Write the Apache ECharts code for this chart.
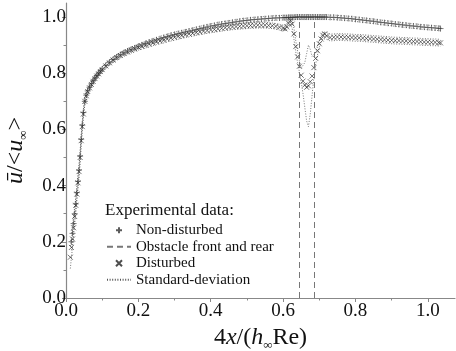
<!DOCTYPE html>
<html>
<head>
<meta charset="utf-8">
<script src="https://cdn.jsdelivr.net/npm/echarts@6/dist/echarts.min.js"></script>
<style>
html, body { margin: 0; padding: 0; background: #fff; }
#main { width: 456px; height: 351px; }
</style>
</head>
<body>
<div id="main"></div>
<script>
// abscissa of the measurement stations, 4x/(h Re)
var xPos = [
  0.012, 0.015, 0.018, 0.021, 0.024, 0.027, 0.030, 0.033, 0.036, 0.039,
  0.042, 0.045, 0.048, 0.052, 0.056, 0.060, 0.065, 0.070, 0.075, 0.080,
  0.085, 0.090, 0.095, 0.100, 0.11, 0.12, 0.13, 0.14, 0.15, 0.16,
  0.17, 0.18, 0.19, 0.20, 0.21, 0.22, 0.23, 0.24, 0.25, 0.26,
  0.27, 0.28, 0.29, 0.30, 0.31, 0.32, 0.33, 0.34, 0.35, 0.36,
  0.37, 0.38, 0.39, 0.40, 0.41, 0.42, 0.43, 0.44, 0.45, 0.46,
  0.47, 0.48, 0.49, 0.50, 0.51, 0.52, 0.53, 0.54, 0.55, 0.56,
  0.57, 0.58, 0.59, 0.60, 0.605, 0.61, 0.615, 0.62, 0.625, 0.63,
  0.635, 0.64, 0.645, 0.65, 0.655, 0.66, 0.665, 0.67, 0.675, 0.68,
  0.685, 0.69, 0.695, 0.70, 0.705, 0.71, 0.715, 0.72, 0.73, 0.74,
  0.75, 0.76, 0.77, 0.78, 0.79, 0.80, 0.81, 0.82, 0.83, 0.84,
  0.85, 0.86, 0.87, 0.88, 0.89, 0.90, 0.91, 0.92, 0.93, 0.94,
  0.95, 0.96, 0.97, 0.98, 0.99, 1.00, 1.01, 1.02, 1.03, 1.035
];

var nonDisturbed = [
  null, 0.20, 0.23, 0.265, 0.30, 0.335, 0.375, 0.415, 0.455, 0.505,
  0.565, 0.615, 0.66, 0.70, 0.722, 0.737, 0.75, 0.762, 0.773, 0.783,
  0.792, 0.80, 0.808, 0.815, 0.828, 0.839, 0.849, 0.858, 0.866, 0.873,
  0.879, 0.885, 0.890, 0.896, 0.901, 0.906, 0.911, 0.915, 0.919, 0.923,
  0.927, 0.931, 0.935, 0.938, 0.941, 0.944, 0.947, 0.950, 0.953, 0.956,
  0.959, 0.962, 0.965, 0.968, 0.970, 0.973, 0.975, 0.977, 0.979, 0.981,
  0.983, 0.985, 0.987, 0.988, 0.990, 0.991, 0.992, 0.993, 0.994, 0.995,
  0.996, 0.997, 0.997, 0.998, 0.998, 0.998, 0.999, 0.999, 0.999, 0.999,
  1.0, 1.0, 1.0, 1.0, 1.0, 1.0, 1.0, 1.0, 1.0, 1.0,
  1.0, 1.0, 1.0, 1.0, 1.0, 1.0, 1.0, 1.0, 0.999, 0.999,
  0.998, 0.997, 0.996, 0.995, 0.994, 0.992, 0.991, 0.989, 0.988, 0.986,
  0.985, 0.983, 0.981, 0.980, 0.978, 0.977, 0.975, 0.974, 0.972, 0.971,
  0.969, 0.968, 0.967, 0.965, 0.964, 0.963, 0.962, 0.961, 0.960, 0.959
];

var disturbed = [
  0.145, 0.18, 0.21, 0.25, 0.29, 0.33, 0.37, 0.41, 0.45, 0.50,
  0.56, 0.61, 0.655, 0.70, 0.72, 0.735, 0.748, 0.76, 0.771, 0.781,
  0.79, 0.798, 0.806, 0.813, 0.826, 0.837, 0.847, 0.856, 0.863, 0.870,
  0.876, 0.882, 0.887, 0.892, 0.896, 0.900, 0.904, 0.908, 0.912, 0.915,
  0.918, 0.922, 0.925, 0.928, 0.931, 0.934, 0.937, 0.940, 0.942, 0.945,
  0.947, 0.950, 0.952, 0.954, 0.956, 0.958, 0.960, 0.962, 0.963, 0.965,
  0.966, 0.967, 0.968, 0.969, 0.970, 0.970, 0.971, 0.971, 0.971, 0.970,
  0.969, 0.967, 0.964, 0.960, 0.958, 0.965, 0.978, 0.988, 0.975, 0.94,
  0.895, 0.858, 0.825, 0.793, 0.772, 0.758, 0.750, 0.755, 0.77, 0.79,
  0.82, 0.853, 0.88, 0.905, 0.922, 0.935, 0.94, 0.933, 0.927, 0.928,
  0.929, 0.929, 0.928, 0.928, 0.927, 0.926, 0.926, 0.925, 0.924, 0.923,
  0.922, 0.921, 0.920, 0.919, 0.918, 0.917, 0.916, 0.916, 0.915, 0.915,
  0.914, 0.913, 0.913, 0.912, 0.911, 0.911, 0.910, 0.910, 0.909, 0.908
];

// standard deviation of each profile
var stdNonDisturbed = [
  null, 0.03, 0.03, 0.025, 0.025, 0.02, 0.02, 0.02, 0.018, 0.016,
  0.014, 0.012, 0.011, 0.01, 0.01, 0.009, 0.009, 0.008, 0.008, 0.008,
  0.008, 0.008, 0.008, 0.008, 0.008, 0.008, 0.008, 0.008, 0.008, 0.008,
  0.008, 0.008, 0.008, 0.008, 0.008, 0.008, 0.008, 0.008, 0.008, 0.008,
  0.008, 0.008, 0.008, 0.008, 0.008, 0.008, 0.008, 0.008, 0.008, 0.008,
  0.008, 0.008, 0.008, 0.008, 0.008, 0.008, 0.008, 0.008, 0.008, 0.008,
  0.008, 0.008, 0.008, 0.008, 0.008, 0.008, 0.008, 0.008, 0.008, 0.008,
  0.008, 0.008, 0.008, 0.008, 0.008, 0.008, 0.008, 0.008, 0.008, 0.008,
  0.008, 0.008, 0.008, 0.008, 0.008, 0.008, 0.008, 0.008, 0.008, 0.008,
  0.008, 0.008, 0.008, 0.008, 0.008, 0.008, 0.008, 0.008, 0.008, 0.008,
  0.008, 0.008, 0.008, 0.008, 0.008, 0.008, 0.008, 0.008, 0.008, 0.008,
  0.008, 0.008, 0.008, 0.008, 0.008, 0.008, 0.008, 0.008, 0.008, 0.008,
  0.008, 0.008, 0.008, 0.008, 0.008, 0.008, 0.008, 0.008, 0.008, 0.008
];

var stdDisturbed = [
  0.04, 0.035, 0.03, 0.03, 0.025, 0.025, 0.02, 0.02, 0.02, 0.018,
  0.016, 0.015, 0.014, 0.012, 0.011, 0.01, 0.01, 0.01, 0.01, 0.01,
  0.01, 0.01, 0.01, 0.01, 0.01, 0.01, 0.01, 0.01, 0.01, 0.01,
  0.01, 0.01, 0.01, 0.01, 0.01, 0.01, 0.01, 0.01, 0.01, 0.01,
  0.01, 0.01, 0.01, 0.01, 0.01, 0.01, 0.01, 0.01, 0.01, 0.01,
  0.01, 0.01, 0.01, 0.01, 0.01, 0.01, 0.01, 0.01, 0.01, 0.01,
  0.01, 0.01, 0.01, 0.01, 0.01, 0.01, 0.01, 0.01, 0.01, 0.01,
  0.01, 0.01, 0.01, 0.01, 0.01, 0.01, 0.012, 0.012, 0.015, 0.02,
  0.02, 0.02, 0.02, 0.025, 0.045, 0.08, 0.12, 0.145, 0.115, 0.07,
  0.035, 0.02, 0.015, 0.012, 0.012, 0.012, 0.012, 0.012, 0.012, 0.012,
  0.012, 0.012, 0.012, 0.012, 0.012, 0.012, 0.012, 0.012, 0.012, 0.012,
  0.012, 0.012, 0.012, 0.012, 0.012, 0.012, 0.012, 0.012, 0.012, 0.012,
  0.012, 0.012, 0.012, 0.012, 0.012, 0.012, 0.012, 0.012, 0.012, 0.012
];

// obstacle front and rear positions
var obstacleX = [0.644, 0.686];
var obstacleTop = 1.0;

var xTicks = [0, 0.2, 0.4, 0.6, 0.8, 1.0];
var yTicks = [0, 0.2, 0.4, 0.6, 0.8, 1.0];

var serif = "Liberation Serif";
var plusPath = "path://M5,0 L5,10 M0,5 L10,5";
var crossPath = "path://M0,0 L10,10 M10,0 L0,10";
var dotted = { type: [1, 1.6], width: 0.8, color: "#555" };
var dashed = { type: [6, 4], width: 1, color: "#777" };

function pairs(vals) {
	return xPos.map(function (x, i) {
		return [x, vals[i] == null ? "-" : vals[i]];
	});
}
function band(vals, std, sign) {
	return xPos.map(function (x, i) {
		if (vals[i] == null) return [x, "-"];
		return [x, +(vals[i] + sign * std[i]).toFixed(4)];
	});
}
function stdSeries(vals, std, sign) {
	return {
		name: "Standard-deviation",
		type: "line",
		data: band(vals, std, sign),
		showSymbol: false,
		symbol: "none",
		connectNulls: false,
		silent: true,
		lineStyle: dotted,
		itemStyle: { color: "#555" },
		z: 1
	};
}

var myChart = echarts.init(document.getElementById("main"), null, { renderer: "canvas" });

var nameRich = {
	n: { fontFamily: serif, fontSize: 24, color: "#111", lineHeight: 26, verticalAlign: "top" },
	i: { fontFamily: serif, fontSize: 24, fontStyle: "italic", color: "#111", lineHeight: 26, verticalAlign: "top" },
	s: { fontFamily: serif, fontSize: 13, color: "#111", lineHeight: 13, verticalAlign: "top", padding: [13, 0, 0, 0] }
};

var option = {
	animation: false,
	backgroundColor: "#fff",
	title: {
		text: "Experimental data:",
		left: 105,
		top: 202,
		padding: 0,
		textStyle: { fontFamily: serif, fontSize: 17, fontWeight: "normal", color: "#111" }
	},
	legend: {
		orient: "vertical",
		left: 106,
		top: 222,
		padding: 0,
		itemGap: 0,
		itemWidth: 24,
		itemHeight: 6,
		selectedMode: false,
		textStyle: { fontFamily: serif, fontSize: 15, color: "#111", lineHeight: 16.5 },
		data: [
			{ name: "Non-disturbed" },
			{ name: "Obstacle front and rear", itemStyle: { opacity: 0 } },
			{ name: "Disturbed" },
			{ name: "Standard-deviation", itemStyle: { opacity: 0 } }
		]
	},
	grid: { left: 66, right: 1, top: 3, bottom: 53, outerBoundsMode: "none", containLabel: false },
	xAxis: {
		type: "value",
		min: 0,
		max: 1.075,
		interval: 0.2,
		name: "{n|4}{i|x}{n|/(}{i|h}{s|∞}{n|Re)}",
		nameLocation: "middle",
		nameGap: 24,
		nameTextStyle: { rich: nameRich },
		axisLine: { lineStyle: { color: "#888", width: 1.2 } },
		axisTick: { length: 4, lineStyle: { color: "#888" }, customValues: xTicks },
		minorTick: { show: true, splitNumber: 2, length: 2.5, lineStyle: { color: "#888" } },
		splitLine: { show: false },
		axisLabel: {
			customValues: xTicks,
			fontFamily: serif, fontSize: 19, color: "#111", margin: 4,
			formatter: function (v) { return v.toFixed(1); }
		}
	},
	yAxis: {
		type: "value",
		min: 0,
		max: 1.05,
		interval: 0.2,
		name: "{i|ū}{n|/<}{i|u}{s|∞}{n|>}",
		nameLocation: "middle",
		nameRotate: 90,
		nameGap: 36,
		nameTextStyle: { rich: nameRich },
		axisLine: { lineStyle: { color: "#888", width: 1.2 } },
		axisTick: { length: 4, lineStyle: { color: "#888" }, customValues: yTicks },
		minorTick: { show: true, splitNumber: 2, length: 2.5, lineStyle: { color: "#888" } },
		splitLine: { show: false },
		axisLabel: {
			customValues: yTicks,
			fontFamily: serif, fontSize: 19, color: "#111", margin: 0,
			formatter: function (v) { return v.toFixed(1); }
		}
	},
	series: [
		stdSeries(nonDisturbed, stdNonDisturbed, 1),
		stdSeries(nonDisturbed, stdNonDisturbed, -1),
		stdSeries(disturbed, stdDisturbed, 1),
		stdSeries(disturbed, stdDisturbed, -1),
		{
			name: "Obstacle front and rear",
			type: "line",
			data: [],
			symbol: "none",
			lineStyle: dashed,
			itemStyle: { color: "#777" },
			markLine: {
				silent: true,
				symbol: "none",
				label: { show: false },
				lineStyle: dashed,
				data: obstacleX.map(function (x) {
					return [{ coord: [x, 0] }, { coord: [x, obstacleTop] }];
				})
			},
			z: 2
		},
		{
			name: "Disturbed",
			type: "scatter",
			data: pairs(disturbed),
			symbol: crossPath,
			symbolSize: 5,
			symbolKeepAspect: true,
			itemStyle: { color: "transparent", borderColor: "#222", borderWidth: 0.8 },
			z: 3
		},
		{
			name: "Non-disturbed",
			type: "scatter",
			data: pairs(nonDisturbed),
			symbol: plusPath,
			symbolSize: 6,
			symbolKeepAspect: true,
			itemStyle: { color: "transparent", borderColor: "#333", borderWidth: 0.8 },
			z: 4
		}
	]
};

myChart.setOption(option);
</script>
</body>
</html>
